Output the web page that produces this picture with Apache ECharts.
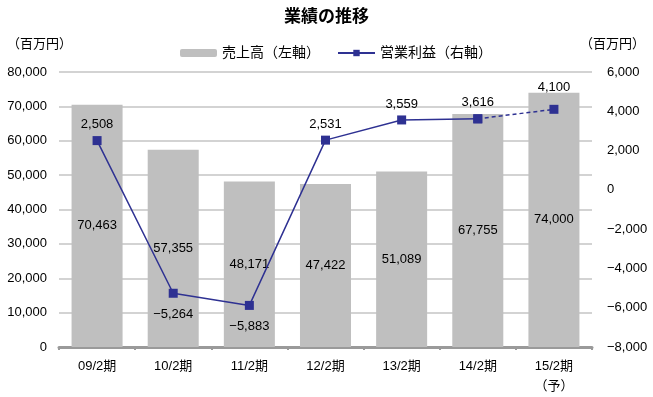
<!DOCTYPE html>
<html>
<head>
<meta charset="utf-8">
<script src="https://cdn.jsdelivr.net/npm/echarts@6/dist/echarts.min.js"></script>
<style>
  html, body { margin: 0; padding: 0; background: #fff; }
  #main { width: 653px; height: 397px; }
</style>
</head>
<body>
<div id="main"></div>
<script>
  var periods = ['09/2期', '10/2期', '11/2期', '12/2期', '13/2期', '14/2期', '15/2期\n（予）']
  var sales = [70463, 57355, 48171, 47422, 51089, 67755, 74000]
  var profit = [2508, -5264, -5883, 2531, 3559, 3616, 4100]
  var leftTicks = { min: 0, max: 80000, interval: 10000 }
  var rightTicks = { min: -8000, max: 6000, interval: 2000 }

  var font = "'Liberation Sans', 'Noto Sans CJK JP', sans-serif"
  var navy = '#2e3192'

  function fmt (v) {
    return (v < 0 ? '−' : '') + Math.abs(v).toLocaleString('en-US')
  }

  // last point is a forecast -> dashed segment
  var last = profit.length - 1
  var solidData = profit.map(function (v, i) {
    if (i === last) return null
    return { value: v, label: { position: v < 0 ? 'bottom' : 'top', distance: v < 0 ? 10 : 5 } }
  })
  var dashData = profit.map(function (v, i) {
    if (i < last - 1) return null
    if (i === last) return { value: v, label: { show: true, position: 'top', distance: 11 } }
    return { value: v, label: { show: false } }
  })

  var myChart = echarts.init(document.getElementById('main'))
  myChart.setOption({
    animation: false,
    textStyle: { fontFamily: font },
    title: {
      text: '業績の推移',
      left: 'center',
      top: 4,
      textStyle: { fontSize: 17, fontWeight: 'bold', color: '#000', fontFamily: font }
    },
    legend: {
      data: ['売上高（左軸）', '営業利益（右軸）'],
      left: 175,
      top: 41,
      itemWidth: 37,
      itemHeight: 8,
      itemGap: 17,
      textStyle: { fontSize: 14, color: '#000', fontFamily: font }
    },
    graphic: [
      { type: 'text', left: 7, top: 38, style: { text: '（百万円）', fill: '#000', font: '13px ' + font } },
      { type: 'text', left: 580, top: 38, style: { text: '（百万円）', fill: '#000', font: '13px ' + font } }
    ],
    grid: {
      left: 59,
      right: 61,
      top: 72,
      bottom: 50
    },
    xAxis: {
      type: 'category',
      data: periods,
      axisLine: { lineStyle: { color: '#9a9a9a', width: 3 } },
      axisTick: { show: true, length: 3, lineStyle: { color: '#9a9a9a', width: 2 } },
      axisLabel: { color: '#000', fontSize: 13, margin: 9, lineHeight: 20, fontFamily: font }
    },
    yAxis: [
      {
        type: 'value',
        min: leftTicks.min,
        max: leftTicks.max,
        interval: leftTicks.interval,
        axisLine: { show: false },
        axisTick: { show: false },
        axisLabel: { color: '#000', fontSize: 13, margin: 12, formatter: fmt, fontFamily: font },
        splitLine: { lineStyle: { color: '#c4c4c4', width: 1.5 } }
      },
      {
        type: 'value',
        min: rightTicks.min,
        max: rightTicks.max,
        interval: rightTicks.interval,
        axisLine: { show: false },
        axisTick: { show: false },
        axisLabel: { color: '#000', fontSize: 13, margin: 15, formatter: fmt, fontFamily: font },
        splitLine: { show: false }
      }
    ],
    series: [
      {
        name: '売上高（左軸）',
        type: 'bar',
        barWidth: '67%',
        color: '#bfbfbf',
        data: sales,
        label: {
          show: true,
          position: 'inside',
          color: '#000',
          fontSize: 13,
          fontFamily: font,
          formatter: function (p) { return fmt(p.value) }
        }
      },
      {
        name: '営業利益（右軸）',
        type: 'line',
        yAxisIndex: 1,
        color: navy,
        symbol: 'rect',
        symbolSize: 9,
        lineStyle: { color: navy, width: 1.5 },
        data: solidData,
        label: {
          show: true,
          color: '#000',
          fontSize: 13,
          fontFamily: font,
          formatter: function (p) { return fmt(p.value) }
        },
        z: 3
      },
      {
        name: '営業利益（予）',
        type: 'line',
        yAxisIndex: 1,
        color: navy,
        symbol: 'rect',
        symbolSize: 9,
        lineStyle: { color: navy, width: 1.5, type: [4, 3] },
        data: dashData,
        label: {
          color: '#000',
          fontSize: 13,
          fontFamily: font,
          formatter: function (p) { return fmt(p.value) }
        },
        z: 3
      }
    ]
  })
</script>
</body>
</html>
